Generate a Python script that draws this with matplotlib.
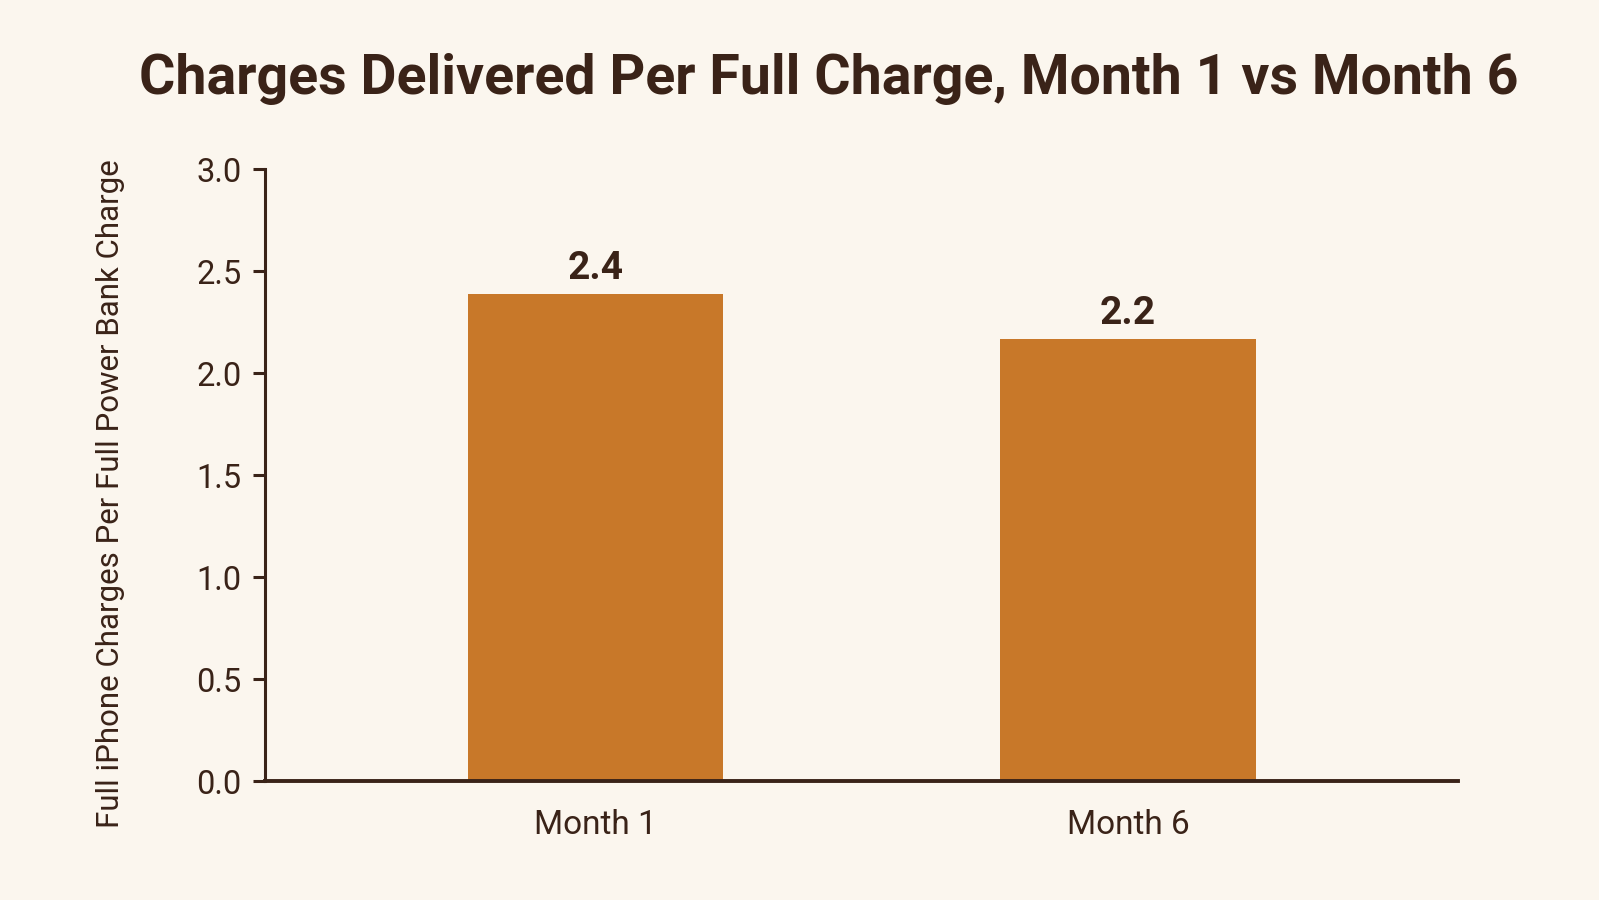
import matplotlib
matplotlib.use("Agg")
import matplotlib.pyplot as plt

categories = ["Month 1", "Month 6"]
values = [2.39, 2.17]
yticks = [0.0, 0.5, 1.0, 1.5, 2.0, 2.5, 3.0]

BG = "#FBF6EE"
BAR = "#C87829"
TXT = "#3A2318"

plt.rcParams['font.family'] = ['Roboto', 'DejaVu Sans']

fig = plt.figure(figsize=(15.99, 9.0), dpi=100, facecolor=BG)
ax = fig.add_axes([0.166, 0.132, 0.746, 0.68])
ax.set_facecolor(BG)

x = list(range(len(categories)))
bars = ax.bar(x, values, width=0.48, color=BAR, zorder=2)
for xi, v in zip(x, values):
    ax.annotate(f"{v:.1f}", (xi, v), xytext=(0, 5), textcoords="offset points",
                ha="center", va="bottom", fontsize=28, fontweight="bold", color=TXT)

ax.set_xlim(-0.62, 1.62)
ax.set_ylim(0, 3.0)
ax.set_yticks(yticks)
ax.set_yticklabels([f"{t:.1f}" for t in yticks])
ax.set_xticks(x)
ax.set_xticklabels(categories)

for s in ["top", "right"]:
    ax.spines[s].set_visible(False)
ax.spines["left"].set_color(TXT)
ax.spines["bottom"].set_color(TXT)
ax.spines["left"].set_linewidth(2.2)
ax.spines["bottom"].set_linewidth(2.8)

ax.tick_params(axis="y", length=9, width=2.2, color=TXT, labelsize=23.5, labelcolor=TXT, pad=8)
ax.tick_params(axis="x", length=0, labelsize=24, labelcolor=TXT, pad=20)

ax.set_ylabel("Full iPhone Charges Per Full Power Bank Charge", fontsize=22.5, color=TXT)
ax.yaxis.set_label_coords(-0.118, 0.47)

fig.text(0.518, 0.912, "Charges Delivered Per Full Charge, Month 1 vs Month 6",
         ha="center", va="center", fontsize=40, fontweight="bold", color=TXT)

fig.savefig("out.png", dpi=100, facecolor=BG)
